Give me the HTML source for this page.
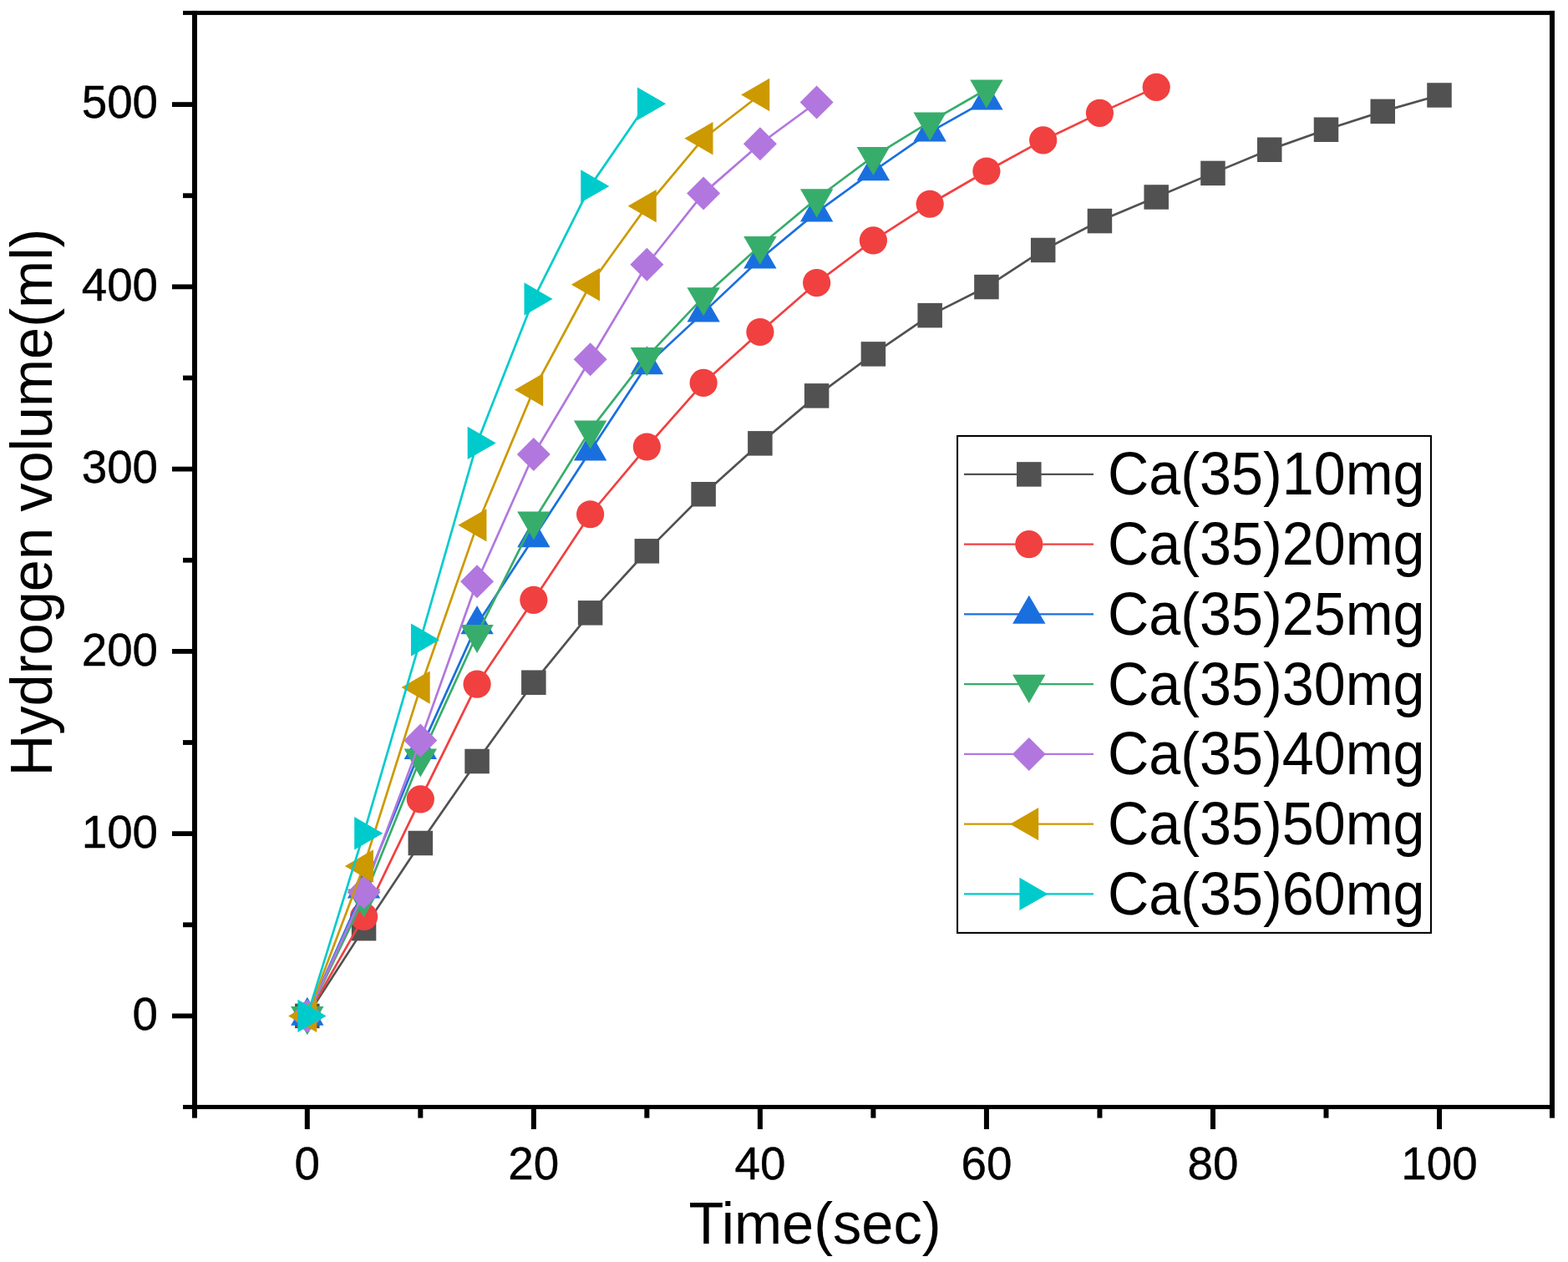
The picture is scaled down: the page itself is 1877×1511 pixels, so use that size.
<!DOCTYPE html>
<html lang="en"><head><meta charset="utf-8"><title>Hydrogen volume vs time</title>
<style>
html,body{margin:0;padding:0;background:#fff;}
body{width:1877px;height:1511px;overflow:hidden;}
svg{display:block;}
text{font-family:"Liberation Sans",Arial,Helvetica,sans-serif;fill:#000;}
</style></head><body>
<svg width="1877" height="1511" viewBox="0 0 1877 1511">
<rect x="0" y="0" width="1877" height="1511" fill="#fff"/>
<g stroke-linejoin="round" stroke-linecap="butt">
<polyline points="367.80,1216.40 435.56,1111.64 503.32,1009.49 571.08,911.49 638.84,817.20 706.60,733.83 774.36,659.84 842.12,591.74 909.88,530.85 977.64,473.88 1045.40,423.90 1113.16,377.63 1180.92,343.58 1248.68,299.49 1316.44,264.57 1384.20,235.98 1451.96,207.38 1519.72,179.23 1587.48,155.22 1655.24,133.39 1723.00,113.97" fill="none" stroke="#515151" stroke-width="2.7"/>
<rect x="353.05" y="1201.65" width="29.50" height="29.50" fill="#515151"/>
<rect x="420.81" y="1096.89" width="29.50" height="29.50" fill="#515151"/>
<rect x="488.57" y="994.74" width="29.50" height="29.50" fill="#515151"/>
<rect x="556.33" y="896.74" width="29.50" height="29.50" fill="#515151"/>
<rect x="624.09" y="802.45" width="29.50" height="29.50" fill="#515151"/>
<rect x="691.85" y="719.08" width="29.50" height="29.50" fill="#515151"/>
<rect x="759.61" y="645.09" width="29.50" height="29.50" fill="#515151"/>
<rect x="827.37" y="576.99" width="29.50" height="29.50" fill="#515151"/>
<rect x="895.13" y="516.10" width="29.50" height="29.50" fill="#515151"/>
<rect x="962.89" y="459.13" width="29.50" height="29.50" fill="#515151"/>
<rect x="1030.65" y="409.15" width="29.50" height="29.50" fill="#515151"/>
<rect x="1098.41" y="362.88" width="29.50" height="29.50" fill="#515151"/>
<rect x="1166.17" y="328.83" width="29.50" height="29.50" fill="#515151"/>
<rect x="1233.93" y="284.74" width="29.50" height="29.50" fill="#515151"/>
<rect x="1301.69" y="249.82" width="29.50" height="29.50" fill="#515151"/>
<rect x="1369.45" y="221.23" width="29.50" height="29.50" fill="#515151"/>
<rect x="1437.21" y="192.63" width="29.50" height="29.50" fill="#515151"/>
<rect x="1504.97" y="164.48" width="29.50" height="29.50" fill="#515151"/>
<rect x="1572.73" y="140.47" width="29.50" height="29.50" fill="#515151"/>
<rect x="1640.49" y="118.64" width="29.50" height="29.50" fill="#515151"/>
<rect x="1708.25" y="99.22" width="29.50" height="29.50" fill="#515151"/>
<polyline points="367.80,1216.40 435.56,1097.45 503.32,956.89 571.08,819.17 638.84,718.33 706.60,615.75 774.36,534.99 842.12,458.38 909.88,397.49 977.64,338.56 1045.40,287.92 1113.16,244.27 1180.92,204.98 1248.68,167.88 1316.44,135.36 1384.20,104.37" fill="none" stroke="#F14040" stroke-width="2.7"/>
<circle cx="367.80" cy="1216.40" r="16.60" fill="#F14040"/>
<circle cx="435.56" cy="1097.45" r="16.60" fill="#F14040"/>
<circle cx="503.32" cy="956.89" r="16.60" fill="#F14040"/>
<circle cx="571.08" cy="819.17" r="16.60" fill="#F14040"/>
<circle cx="638.84" cy="718.33" r="16.60" fill="#F14040"/>
<circle cx="706.60" cy="615.75" r="16.60" fill="#F14040"/>
<circle cx="774.36" cy="534.99" r="16.60" fill="#F14040"/>
<circle cx="842.12" cy="458.38" r="16.60" fill="#F14040"/>
<circle cx="909.88" cy="397.49" r="16.60" fill="#F14040"/>
<circle cx="977.64" cy="338.56" r="16.60" fill="#F14040"/>
<circle cx="1045.40" cy="287.92" r="16.60" fill="#F14040"/>
<circle cx="1113.16" cy="244.27" r="16.60" fill="#F14040"/>
<circle cx="1180.92" cy="204.98" r="16.60" fill="#F14040"/>
<circle cx="1248.68" cy="167.88" r="16.60" fill="#F14040"/>
<circle cx="1316.44" cy="135.36" r="16.60" fill="#F14040"/>
<circle cx="1384.20" cy="104.37" r="16.60" fill="#F14040"/>
<polyline points="367.80,1216.40 435.56,1064.05 503.32,897.74 571.08,747.80 638.84,643.90 706.60,540.01 774.36,436.99 842.12,374.13 909.88,310.18 977.64,254.09 1045.40,204.98 1113.16,158.06 1180.92,120.08" fill="none" stroke="#1A6FDF" stroke-width="2.7"/>
<polygon points="367.80,1193.65 387.50,1227.77 348.10,1227.77" fill="#1A6FDF"/>
<polygon points="435.56,1041.31 455.26,1075.43 415.86,1075.43" fill="#1A6FDF"/>
<polygon points="503.32,874.99 523.02,909.11 483.62,909.11" fill="#1A6FDF"/>
<polygon points="571.08,725.05 590.78,759.17 551.38,759.17" fill="#1A6FDF"/>
<polygon points="638.84,621.16 658.54,655.28 619.14,655.28" fill="#1A6FDF"/>
<polygon points="706.60,517.26 726.30,551.39 686.90,551.39" fill="#1A6FDF"/>
<polygon points="774.36,414.25 794.06,448.37 754.66,448.37" fill="#1A6FDF"/>
<polygon points="842.12,351.39 861.82,385.51 822.42,385.51" fill="#1A6FDF"/>
<polygon points="909.88,287.44 929.58,321.56 890.18,321.56" fill="#1A6FDF"/>
<polygon points="977.64,231.34 997.34,265.47 957.94,265.47" fill="#1A6FDF"/>
<polygon points="1045.40,182.24 1065.10,216.36 1025.70,216.36" fill="#1A6FDF"/>
<polygon points="1113.16,135.31 1132.86,169.43 1093.46,169.43" fill="#1A6FDF"/>
<polygon points="1180.92,97.33 1200.62,131.45 1161.22,131.45" fill="#1A6FDF"/>
<polyline points="367.80,1216.40 435.56,1075.84 503.32,907.78 571.08,759.36 638.84,623.82 706.60,514.91 774.36,427.39 842.12,355.58 909.88,294.25 977.64,237.72 1045.40,187.30 1113.16,145.83 1180.92,106.98" fill="none" stroke="#37AD6B" stroke-width="2.7"/>
<polygon points="367.80,1239.15 387.50,1205.03 348.10,1205.03" fill="#37AD6B"/>
<polygon points="435.56,1098.59 455.26,1064.47 415.86,1064.47" fill="#37AD6B"/>
<polygon points="503.32,930.53 523.02,896.41 483.62,896.41" fill="#37AD6B"/>
<polygon points="571.08,782.11 590.78,747.99 551.38,747.99" fill="#37AD6B"/>
<polygon points="638.84,646.57 658.54,612.45 619.14,612.45" fill="#37AD6B"/>
<polygon points="706.60,537.66 726.30,503.54 686.90,503.54" fill="#37AD6B"/>
<polygon points="774.36,450.14 794.06,416.02 754.66,416.02" fill="#37AD6B"/>
<polygon points="842.12,378.33 861.82,344.21 822.42,344.21" fill="#37AD6B"/>
<polygon points="909.88,317.00 929.58,282.88 890.18,282.88" fill="#37AD6B"/>
<polygon points="977.64,260.47 997.34,226.35 957.94,226.35" fill="#37AD6B"/>
<polygon points="1045.40,210.05 1065.10,175.93 1025.70,175.93" fill="#37AD6B"/>
<polygon points="1113.16,168.58 1132.86,134.46 1093.46,134.46" fill="#37AD6B"/>
<polygon points="1180.92,129.73 1200.62,95.61 1161.22,95.61" fill="#37AD6B"/>
<polyline points="367.80,1216.40 435.56,1068.20 503.32,886.61 571.08,696.29 638.84,543.94 706.60,430.23 774.36,316.73 842.12,231.39 909.88,172.24 977.64,122.48" fill="none" stroke="#B177DE" stroke-width="2.7"/>
<polygon points="367.80,1196.40 387.80,1216.40 367.80,1236.40 347.80,1216.40" fill="#B177DE"/>
<polygon points="435.56,1048.20 455.56,1068.20 435.56,1088.20 415.56,1068.20" fill="#B177DE"/>
<polygon points="503.32,866.61 523.32,886.61 503.32,906.61 483.32,886.61" fill="#B177DE"/>
<polygon points="571.08,676.29 591.08,696.29 571.08,716.29 551.08,696.29" fill="#B177DE"/>
<polygon points="638.84,523.94 658.84,543.94 638.84,563.94 618.84,543.94" fill="#B177DE"/>
<polygon points="706.60,410.23 726.60,430.23 706.60,450.23 686.60,430.23" fill="#B177DE"/>
<polygon points="774.36,296.73 794.36,316.73 774.36,336.73 754.36,316.73" fill="#B177DE"/>
<polygon points="842.12,211.39 862.12,231.39 842.12,251.39 822.12,231.39" fill="#B177DE"/>
<polygon points="909.88,152.24 929.88,172.24 909.88,192.24 889.88,172.24" fill="#B177DE"/>
<polygon points="977.64,102.48 997.64,122.48 977.64,142.48 957.64,122.48" fill="#B177DE"/>
<polyline points="367.80,1216.40 435.56,1036.99 503.32,823.10 571.08,628.84 638.84,466.68 706.60,340.74 774.36,246.67 842.12,165.70 909.88,113.53" fill="none" stroke="#CC9900" stroke-width="2.7"/>
<polygon points="345.05,1216.40 379.17,1196.70 379.17,1236.10" fill="#CC9900"/>
<polygon points="412.81,1036.99 446.93,1017.29 446.93,1056.69" fill="#CC9900"/>
<polygon points="480.57,823.10 514.69,803.40 514.69,842.80" fill="#CC9900"/>
<polygon points="548.33,628.84 582.45,609.14 582.45,648.54" fill="#CC9900"/>
<polygon points="616.09,466.68 650.21,446.98 650.21,486.38" fill="#CC9900"/>
<polygon points="683.85,340.74 717.97,321.04 717.97,360.44" fill="#CC9900"/>
<polygon points="751.61,246.67 785.73,226.97 785.73,266.37" fill="#CC9900"/>
<polygon points="819.37,165.70 853.49,146.00 853.49,185.40" fill="#CC9900"/>
<polygon points="887.13,113.53 921.25,93.83 921.25,133.23" fill="#CC9900"/>
<polyline points="367.80,1216.40 435.56,997.70 503.32,766.13 571.08,530.41 638.84,357.98 706.60,222.88 774.36,124.23" fill="none" stroke="#00CBCC" stroke-width="2.7"/>
<polygon points="390.55,1216.40 356.43,1196.70 356.43,1236.10" fill="#00CBCC"/>
<polygon points="458.31,997.70 424.19,978.00 424.19,1017.40" fill="#00CBCC"/>
<polygon points="526.07,766.13 491.95,746.43 491.95,785.83" fill="#00CBCC"/>
<polygon points="593.83,530.41 559.71,510.71 559.71,550.11" fill="#00CBCC"/>
<polygon points="661.59,357.98 627.47,338.28 627.47,377.68" fill="#00CBCC"/>
<polygon points="729.35,222.88 695.23,203.18 695.23,242.58" fill="#00CBCC"/>
<polygon points="797.11,124.23 762.99,104.53 762.99,143.93" fill="#00CBCC"/>
</g>
<g fill="#000">
<rect x="230.0" y="12.9" width="6.0" height="1325.7"/>
<rect x="1855.0" y="12.9" width="6.0" height="1325.7"/>
<rect x="219" y="12.9" width="1642.0" height="5.0"/>
<rect x="219" y="1322.9" width="1642.0" height="5.1"/>
<rect x="206" y="1213.50" width="25.0" height="5.8"/>
<rect x="219" y="1104.37" width="12.0" height="5.8"/>
<rect x="206" y="995.24" width="25.0" height="5.8"/>
<rect x="219" y="886.11" width="12.0" height="5.8"/>
<rect x="206" y="776.98" width="25.0" height="5.8"/>
<rect x="219" y="667.85" width="12.0" height="5.8"/>
<rect x="206" y="558.72" width="25.0" height="5.8"/>
<rect x="219" y="449.59" width="12.0" height="5.8"/>
<rect x="206" y="340.46" width="25.0" height="5.8"/>
<rect x="219" y="231.33" width="12.0" height="5.8"/>
<rect x="206" y="122.20" width="25.0" height="5.8"/>
<rect x="364.80" y="1327.0" width="6.0" height="25.0"/>
<rect x="500.32" y="1327.0" width="6.0" height="11.6"/>
<rect x="635.84" y="1327.0" width="6.0" height="25.0"/>
<rect x="771.36" y="1327.0" width="6.0" height="11.6"/>
<rect x="906.88" y="1327.0" width="6.0" height="25.0"/>
<rect x="1042.40" y="1327.0" width="6.0" height="11.6"/>
<rect x="1177.92" y="1327.0" width="6.0" height="25.0"/>
<rect x="1313.44" y="1327.0" width="6.0" height="11.6"/>
<rect x="1448.96" y="1327.0" width="6.0" height="25.0"/>
<rect x="1584.48" y="1327.0" width="6.0" height="11.6"/>
<rect x="1720.00" y="1327.0" width="6.0" height="25.0"/>
</g>
<g font-size="54.8" stroke="#000" stroke-width="0.4" stroke-linejoin="round">
<text transform="translate(189.1,1233.4) scale(1,1.0)" text-anchor="end">0</text>
<text transform="translate(189.1,1014.6) scale(1,1.0)" text-anchor="end">100</text>
<text transform="translate(189.1,796.5) scale(1,1.0)" text-anchor="end">200</text>
<text transform="translate(189.1,577.5) scale(1,1.0)" text-anchor="end">300</text>
<text transform="translate(189.1,359.5) scale(1,1.0)" text-anchor="end">400</text>
<text transform="translate(189.1,140.5) scale(1,1.0)" text-anchor="end">500</text>
<text transform="translate(367.8,1412.4) scale(1,1.0)" text-anchor="middle">0</text>
<text transform="translate(638.8,1412.4) scale(1,1.0)" text-anchor="middle">20</text>
<text transform="translate(909.9,1412.4) scale(1,1.0)" text-anchor="middle">40</text>
<text transform="translate(1180.9,1412.4) scale(1,1.0)" text-anchor="middle">60</text>
<text transform="translate(1452.0,1412.4) scale(1,1.0)" text-anchor="middle">80</text>
<text transform="translate(1723.0,1412.4) scale(1,1.0)" text-anchor="middle">100</text>
</g>
<text transform="translate(975.5,1489.0) scale(1,1.02)" font-size="68.6" text-anchor="middle">Time(sec)</text>
<text transform="translate(62,601.5) rotate(-90) scale(1,1.02)" font-size="68.6" text-anchor="middle">Hydrogen volume(ml)</text>
<rect x="1146.05" y="522.0" width="566.9" height="594.9" fill="none" stroke="#000" stroke-width="2.05"/>
<line x1="1154" y1="567.90" x2="1309" y2="567.90" stroke="#515151" stroke-width="2.2"/>
<rect x="1217.05" y="553.15" width="29.50" height="29.50" fill="#515151"/>
<text transform="translate(1326,592.30) scale(1,1.045)" font-size="68.3">Ca(35)10mg</text>
<line x1="1154" y1="651.65" x2="1309" y2="651.65" stroke="#F14040" stroke-width="2.2"/>
<circle cx="1231.80" cy="651.65" r="16.60" fill="#F14040"/>
<text transform="translate(1326,676.05) scale(1,1.045)" font-size="68.3">Ca(35)20mg</text>
<line x1="1154" y1="735.40" x2="1309" y2="735.40" stroke="#1A6FDF" stroke-width="2.2"/>
<polygon points="1231.80,712.65 1251.50,746.77 1212.10,746.77" fill="#1A6FDF"/>
<text transform="translate(1326,759.80) scale(1,1.045)" font-size="68.3">Ca(35)25mg</text>
<line x1="1154" y1="819.15" x2="1309" y2="819.15" stroke="#37AD6B" stroke-width="2.2"/>
<polygon points="1231.80,841.90 1251.50,807.78 1212.10,807.78" fill="#37AD6B"/>
<text transform="translate(1326,843.55) scale(1,1.045)" font-size="68.3">Ca(35)30mg</text>
<line x1="1154" y1="902.90" x2="1309" y2="902.90" stroke="#B177DE" stroke-width="2.2"/>
<polygon points="1231.80,882.90 1251.80,902.90 1231.80,922.90 1211.80,902.90" fill="#B177DE"/>
<text transform="translate(1326,927.30) scale(1,1.045)" font-size="68.3">Ca(35)40mg</text>
<line x1="1154" y1="986.65" x2="1309" y2="986.65" stroke="#CC9900" stroke-width="2.2"/>
<polygon points="1209.05,986.65 1243.17,966.95 1243.17,1006.35" fill="#CC9900"/>
<text transform="translate(1326,1011.05) scale(1,1.045)" font-size="68.3">Ca(35)50mg</text>
<line x1="1154" y1="1070.40" x2="1309" y2="1070.40" stroke="#00CBCC" stroke-width="2.2"/>
<polygon points="1254.55,1070.40 1220.43,1050.70 1220.43,1090.10" fill="#00CBCC"/>
<text transform="translate(1326,1094.80) scale(1,1.045)" font-size="68.3">Ca(35)60mg</text>
</svg>
</body></html>
